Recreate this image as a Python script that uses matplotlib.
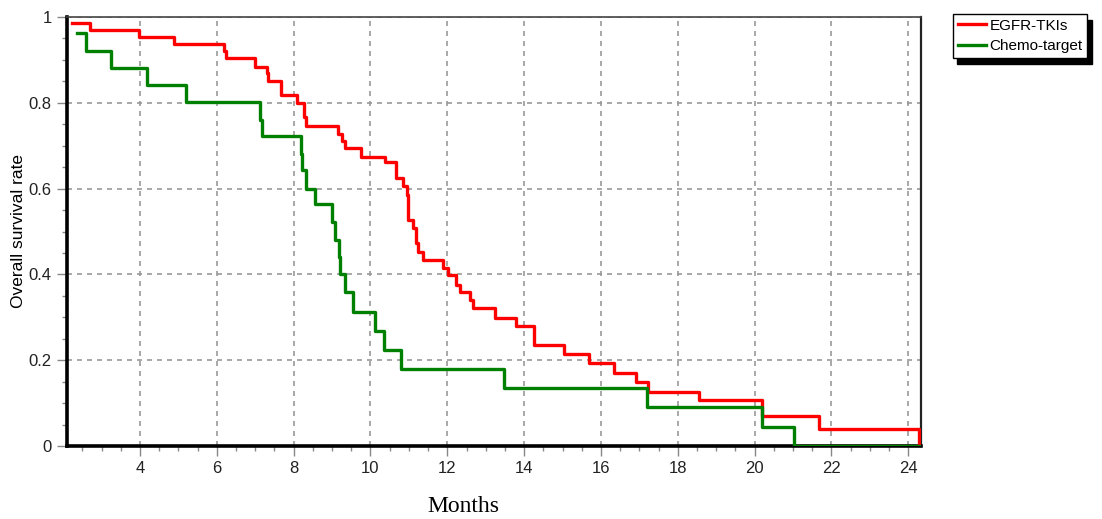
import matplotlib
matplotlib.use("Agg")
import matplotlib.pyplot as plt
from matplotlib.ticker import MultipleLocator

plt.rcParams['font.family'] = ['Liberation Sans', 'DejaVu Sans']

# Kaplan-Meier steps (time in months, survival after the step)
egfr_t = [2.22, 2.70, 3.98, 4.89, 6.19, 6.23, 6.99, 7.31, 7.34, 7.66, 8.08, 8.28,
          8.32, 9.15, 9.25, 9.34, 9.75, 10.38, 10.66, 10.84, 10.96, 10.98, 11.11,
          11.18, 11.24, 11.36, 11.89, 12.02, 12.22, 12.33, 12.59, 12.66, 13.25,
          13.78, 14.26, 15.04, 15.69, 16.35, 16.91, 17.23, 18.54, 20.18, 21.68,
          24.28]
egfr_s = [0.986, 0.970, 0.954, 0.936, 0.920, 0.904, 0.884, 0.869, 0.851, 0.818,
          0.799, 0.766, 0.746, 0.727, 0.712, 0.694, 0.673, 0.661, 0.624, 0.605,
          0.585, 0.527, 0.508, 0.474, 0.453, 0.434, 0.414, 0.399, 0.375, 0.360,
          0.340, 0.321, 0.298, 0.279, 0.235, 0.214, 0.194, 0.171, 0.150, 0.127,
          0.107, 0.070, 0.039, 0.0]

chemo_t = [2.37, 2.59, 3.24, 4.19, 5.20, 7.12, 7.18, 8.18, 8.23, 8.32, 8.55, 9.01,
           9.08, 9.17, 9.21, 9.34, 9.55, 10.12, 10.35, 10.79, 13.47, 17.20, 20.18,
           21.03, 24.28]
chemo_s = [0.963, 0.921, 0.882, 0.841, 0.802, 0.760, 0.723, 0.681, 0.643, 0.600,
           0.563, 0.523, 0.480, 0.441, 0.402, 0.358, 0.313, 0.269, 0.224, 0.179,
           0.136, 0.090, 0.045, 0.0, 0.0]

x_ticks = [4, 6, 8, 10, 12, 14, 16, 18, 20, 22, 24]
y_ticks = [0, 0.2, 0.4, 0.6, 0.8, 1]
y_tick_labels = ['0', '0.2', '0.4', '0.6', '0.8', '1']

fig = plt.figure(figsize=(11.02, 5.19), dpi=100)
ax = fig.add_axes([67 / 1102, 73 / 519, (921 - 67) / 1102, (446 - 17) / 519])

ax.step(egfr_t, egfr_s, where='post', color='#ff0000', lw=2.4, label='EGFR-TKIs', zorder=3)
ax.step(chemo_t, chemo_s, where='post', color='#008000', lw=2.4, label='Chemo-target', zorder=4)

ax.set_xlim(2.10, 24.33)
ax.set_ylim(0, 1)
ax.set_xticks(x_ticks)
ax.set_yticks(y_ticks)
ax.set_yticklabels(y_tick_labels)
ax.xaxis.set_minor_locator(MultipleLocator(0.5))
ax.yaxis.set_minor_locator(MultipleLocator(0.05))
ax.tick_params(which='major', length=7, width=1, color='#888888', labelsize=12,
               labelcolor='#222222', pad=4)
ax.tick_params(which='minor', length=3.5, width=1, color='#888888')

ax.grid(True, which='major', color='#999999', linestyle=(0, (3, 3)), lw=1.2)
ax.set_axisbelow(True)

ax.spines['left'].set_linewidth(2.6)
ax.spines['bottom'].set_linewidth(2.6)
ax.spines['left'].set_color('black')
ax.spines['bottom'].set_color('black')
ax.spines['top'].set_linewidth(1.2)
ax.spines['top'].set_color('#444444')
ax.spines['right'].set_linewidth(1.6)
ax.spines['right'].set_color('#222222')

ax.set_ylabel('Overall survival rate', fontsize=12.5, labelpad=2)
fig.text(463 / 1102, 1 - 506 / 519, 'Months', family='Liberation Serif', fontsize=17,
         ha='center', va='center')

leg = fig.legend(loc='upper left', bbox_to_anchor=(953 / 1102, 1 - 14 / 519),
                 fontsize=11, frameon=True, fancybox=False,
                 shadow={'ox': 3, 'oy': -4, 'facecolor': 'black', 'edgecolor': 'black', 'alpha': 1},
                 handlelength=1.85, handletextpad=0.25, labelspacing=0.45,
                 borderpad=0.3, borderaxespad=0)
leg.get_frame().set_edgecolor('black')
leg.get_frame().set_linewidth(1)
leg.get_frame().set_alpha(1)

fig.savefig('out.png', dpi=100)
